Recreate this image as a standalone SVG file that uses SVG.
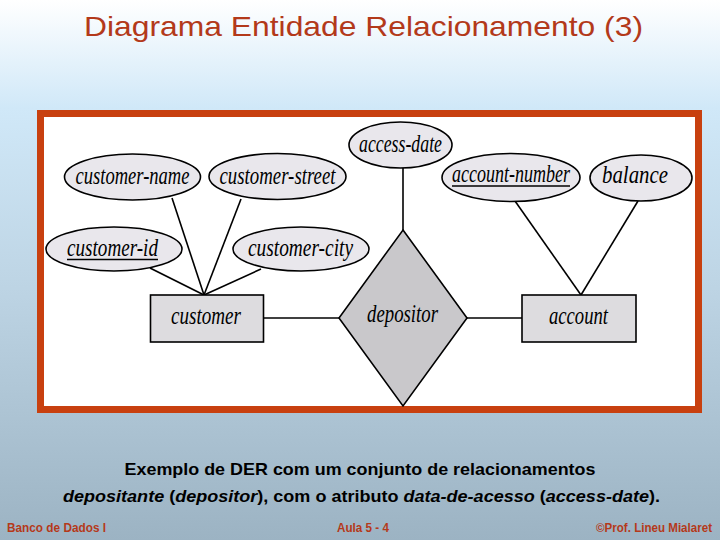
<svg xmlns="http://www.w3.org/2000/svg" width="720" height="540" viewBox="0 0 720 540">
<defs>
<linearGradient id="bg" x1="0" y1="0" x2="0" y2="1">
<stop offset="0" stop-color="#ffffff"/>
<stop offset="0.2" stop-color="#d0e8f8"/>
<stop offset="0.55" stop-color="#bcd3e3"/>
<stop offset="1" stop-color="#9cb3c3"/>
</linearGradient>
<style>
.title{font-family:"Liberation Sans",Arial,sans-serif;font-size:28px;fill:#b3391a}
.attr{fill:#e9e7ec;stroke:#000;stroke-width:1.6}
.ent{fill:#dddcdf;stroke:#000;stroke-width:1.6}
.rel{fill:#c9c8cb;stroke:#000;stroke-width:1.6}
.lbl{font-family:"Liberation Serif","Times New Roman",serif;font-style:italic;font-size:26px;fill:#000;text-anchor:middle}
.ul{stroke:#000;stroke-width:1.5}
.conn line{stroke:#000;stroke-width:1.6}
.cap{font-family:"Liberation Sans",Arial,sans-serif;font-weight:bold;font-size:17px;fill:#000}
.foot{font-family:"Liberation Sans",Arial,sans-serif;font-weight:bold;font-size:12.5px;fill:#b5391a}
</style>
</defs>
<rect x="0" y="0" width="720" height="540" fill="url(#bg)"/>
<text class="title" x="363.5" y="36" text-anchor="middle" textLength="559" lengthAdjust="spacingAndGlyphs">Diagrama Entidade Relacionamento (3)</text>
<rect x="40.5" y="113.5" width="658" height="296" fill="#ffffff" stroke="#c8400f" stroke-width="7"/>
<g class="conn" id="connectors">
<line x1="172" y1="198" x2="204" y2="295"/>
<line x1="241" y1="199" x2="204" y2="295"/>
<line x1="150" y1="268" x2="204" y2="295"/>
<line x1="261" y1="269" x2="204" y2="295"/>
<line x1="403" y1="168" x2="403" y2="230"/>
<line x1="515" y1="201" x2="581" y2="295"/>
<line x1="638" y1="201" x2="581" y2="295"/>
<line x1="264" y1="318" x2="339" y2="318"/>
<line x1="467" y1="318" x2="522" y2="318"/>
</g>
<g id="customer-name">
<ellipse class="attr" cx="132.5" cy="177" rx="68" ry="23"/>
<text class="lbl" x="132.5" y="184" textLength="114" lengthAdjust="spacingAndGlyphs">customer-name</text>
</g>
<g id="customer-street">
<ellipse class="attr" cx="277.5" cy="176.5" rx="68.5" ry="23"/>
<text class="lbl" x="277.5" y="184" textLength="116" lengthAdjust="spacingAndGlyphs">customer-street</text>
</g>
<g id="customer-id">
<ellipse class="attr" cx="114" cy="249" rx="68" ry="22"/>
<text class="lbl" x="112.5" y="256" textLength="91" lengthAdjust="spacingAndGlyphs">customer-id</text>
<line class="ul" x1="67" y1="259.5" x2="158" y2="259.5"/>
</g>
<g id="customer-city">
<ellipse class="attr" cx="301" cy="249" rx="68" ry="22"/>
<text class="lbl" x="300.5" y="256" textLength="105" lengthAdjust="spacingAndGlyphs">customer-city</text>
</g>
<g id="access-date">
<ellipse class="attr" cx="400.5" cy="145" rx="51.5" ry="23"/>
<text class="lbl" x="400.5" y="152" textLength="83" lengthAdjust="spacingAndGlyphs">access-date</text>
</g>
<g id="account-number">
<ellipse class="attr" cx="511" cy="177.5" rx="69" ry="24"/>
<text class="lbl" x="511" y="182" textLength="118" lengthAdjust="spacingAndGlyphs">account-number</text>
<line class="ul" x1="452" y1="186" x2="570" y2="186"/>
</g>
<g id="balance">
<ellipse class="attr" cx="641" cy="178" rx="51" ry="23"/>
<text class="lbl" x="635" y="183" textLength="66" lengthAdjust="spacingAndGlyphs">balance</text>
</g>
<g id="customer">
<rect class="ent" x="150.5" y="295" width="113" height="47"/>
<text class="lbl" x="206" y="324" textLength="70" lengthAdjust="spacingAndGlyphs">customer</text>
</g>
<g id="depositor">
<polygon class="rel" points="403,230 467,318 403,406 339,318"/>
<text class="lbl" x="402.5" y="322" textLength="71" lengthAdjust="spacingAndGlyphs">depositor</text>
</g>
<g id="account">
<rect class="ent" x="522" y="295" width="114" height="47"/>
<text class="lbl" x="578.5" y="324" textLength="59" lengthAdjust="spacingAndGlyphs">account</text>
</g>
<text class="cap" x="360" y="475" text-anchor="middle" textLength="471" lengthAdjust="spacingAndGlyphs">Exemplo de DER com um conjunto de relacionamentos</text>
<text class="cap" x="361.5" y="502" text-anchor="middle" textLength="597" lengthAdjust="spacingAndGlyphs"><tspan font-style="italic">depositante</tspan> (<tspan font-style="italic">depositor</tspan>), com o atributo <tspan font-style="italic">data-de-acesso</tspan> (<tspan font-style="italic">access-date</tspan>).</text>
<text class="foot" x="7" y="532" textLength="99" lengthAdjust="spacingAndGlyphs">Banco de Dados I</text>
<text class="foot" x="337" y="532" textLength="52" lengthAdjust="spacingAndGlyphs">Aula 5 - 4</text>
<text class="foot" x="596" y="532" textLength="116" lengthAdjust="spacingAndGlyphs">©Prof. Lineu Mialaret</text>
</svg>
